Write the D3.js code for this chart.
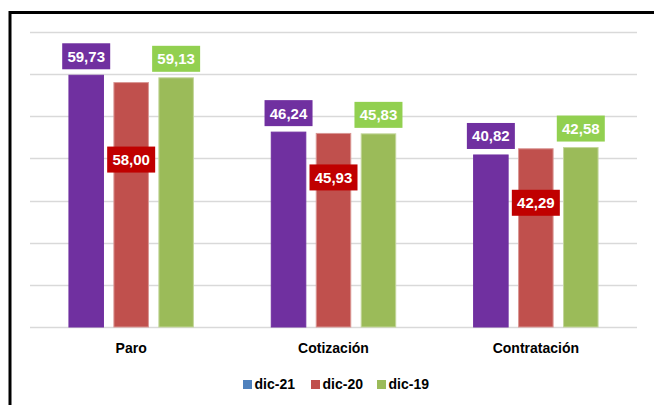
<!DOCTYPE html>
<html>
<head>
<meta charset="utf-8">
<script src="https://cdn.jsdelivr.net/npm/d3@7"></script>
<style>
  body { margin: 0; background: #fff; }
  svg { display: block; font-family: "Liberation Sans", Arial, sans-serif; }
</style>
</head>
<body>
<svg id="chart" width="654" height="405"></svg>
<script>
// data
const categories = ["Paro", "Cotización", "Contratación"];
const seriesNames = ["dic-21", "dic-20", "dic-19"];
const dic21 = [59.73, 46.24, 40.82];
const dic20 = [58.0, 45.93, 42.29];
const dic19 = [59.13, 45.83, 42.58];
const yTicks = [0, 10, 20, 30, 40, 50, 60, 70];

const barColors = ["#7030A0", "#C0504D", "#9BBB59"];
const barStroke = ["#7030A0", "#D99694", "#C3D69B"];
const labelColors = ["#7030A0", "#C00000", "#92D050"];
const legendColors = ["#4F81BD", "#C0504D", "#9BBB59"];
// the red labels were dragged by hand inside the bars (px below bar top)
const redLabelDrop = [64, 31, 41];

const svg = d3.select("#chart");
const width = +svg.attr("width");
const height = +svg.attr("height");

const margin = { top: 32, right: 17, bottom: 78, left: 30 };

const fmt = (v) => v.toFixed(2).replace(".", ",");

const rows = categories.map((c, i) => ({
  cat: c,
  vals: [dic21[i], dic20[i], dic19[i]],
}));

const x0 = d3
  .scaleBand()
  .domain(categories)
  .range([margin.left, width - margin.right])
  .paddingInner(0.38)
  .paddingOuter(0.19);

const x1 = d3
  .scaleBand()
  .domain(seriesNames)
  .range([0, x0.bandwidth()])
  .paddingInner(0.21);

const y = d3
  .scaleLinear()
  .domain([0, 70])
  .range([height - margin.bottom, margin.top]);

// frame
svg
  .append("rect")
  .attr("x", 10)
  .attr("y", 12.5)
  .attr("width", 700)
  .attr("height", 500)
  .attr("fill", "none")
  .attr("stroke", "#000")
  .attr("stroke-width", 3);

// gridlines
svg
  .append("g")
  .selectAll("line")
  .data(yTicks)
  .join("line")
  .attr("x1", margin.left)
  .attr("x2", width - margin.right)
  .attr("y1", (d) => Math.round(y(d)) + 0.5)
  .attr("y2", (d) => Math.round(y(d)) + 0.5)
  .attr("stroke", "#D9D9D9")
  .attr("stroke-width", 1.3);

// bars
const groups = svg
  .append("g")
  .selectAll("g")
  .data(rows)
  .join("g")
  .attr("transform", (d) => "translate(" + x0(d.cat) + ",0)");

groups
  .selectAll("rect")
  .data((d) => d.vals.map((v, j) => ({ v: v, j: j })))
  .join("rect")
  .attr("x", (d) => x1(seriesNames[d.j]) + 0.5)
  .attr("width", x1.bandwidth() - 1)
  .attr("y", (d) => y(d.v))
  .attr("height", (d) => y(0) - y(d.v))
  .attr("fill", (d) => barColors[d.j])
  .attr("stroke", (d) => barStroke[d.j])
  .attr("stroke-width", 1);

// data labels
const boxW = 48;
const boxH = 26;
const labels = groups
  .selectAll("g.lbl")
  .data((d, i) => d.vals.map((v, j) => ({ v: v, j: j, i: i })))
  .join("g")
  .attr("class", "lbl")
  .attr("transform", (d) => {
    const cx = x1(seriesNames[d.j]) + x1.bandwidth() / 2;
    let top = y(d.v) - 6 - boxH;
    if (d.j === 1) top = y(d.v) + redLabelDrop[d.i];
    return "translate(" + cx + "," + top + ")";
  });

labels
  .append("rect")
  .attr("x", -boxW / 2)
  .attr("width", boxW)
  .attr("height", boxH)
  .attr("fill", (d) => labelColors[d.j]);

labels
  .append("text")
  .attr("y", boxH / 2 + 5.5)
  .attr("text-anchor", "middle")
  .attr("fill", "#fff")
  .attr("font-weight", "bold")
  .attr("font-size", "15px")
  .text((d) => fmt(d.v));

// category axis
const xAxis = d3.axisBottom(x0).tickSize(0).tickPadding(0);
svg
  .append("g")
  .attr("transform", "translate(0," + (y(0) + 26) + ")")
  .call(xAxis)
  .call((g) => g.select(".domain").remove())
  .selectAll("text")
  .attr("font-family", "Liberation Sans, Arial, sans-serif")
  .attr("font-weight", "bold")
  .attr("font-size", "14px")
  .attr("fill", "#000")
  .attr("dy", "0");

// legend
const legendX = [243, 311, 377];
const legend = svg
  .append("g")
  .selectAll("g")
  .data(seriesNames)
  .join("g")
  .attr("transform", (d, i) => "translate(" + legendX[i] + ",380)");

legend
  .append("rect")
  .attr("width", 9)
  .attr("height", 9)
  .attr("fill", (d, i) => legendColors[i]);

legend
  .append("text")
  .attr("x", 11.5)
  .attr("y", 9)
  .attr("font-weight", "bold")
  .attr("font-size", "14px")
  .attr("fill", "#000")
  .text((d) => d);
</script>
</body>
</html>
